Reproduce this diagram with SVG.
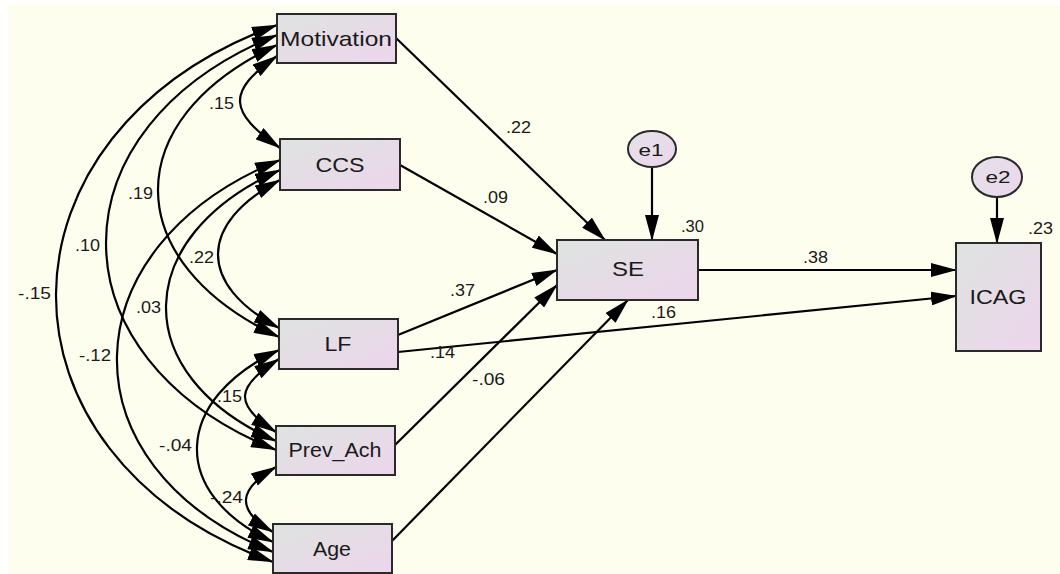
<svg xmlns="http://www.w3.org/2000/svg" width="1060" height="574" viewBox="0 0 1060 574">
  <style>
    .box { stroke: #2a2a2a; stroke-width: 2; fill: url(#nodeFill); }
    .err { stroke: #2a2a2a; stroke-width: 2; fill: url(#errFill); }
    .lbl { font-family: "Liberation Sans", Arial, sans-serif; font-size: 21px; fill: #1a1a1a; text-anchor: middle; }
    .elbl { font-family: "Liberation Sans", Arial, sans-serif; font-size: 17px; fill: #1a1a1a; text-anchor: middle; }
    .coef { font-family: "Liberation Sans", Arial, sans-serif; font-size: 16px; fill: #1a1a1a; }
    .path { stroke: #000; stroke-width: 2.2; fill: none; marker-end: url(#ah); }
    .cov { stroke: #000; stroke-width: 2.2; fill: none; marker-start: url(#ah); marker-end: url(#ah); }
  </style>
  <defs>
    <linearGradient id="nodeFill" x1="0" y1="0" x2="1" y2="1">
      <stop offset="0" stop-color="#dee3e0"/>
      <stop offset="1" stop-color="#edd5ec"/>
    </linearGradient>
    <linearGradient id="errFill" x1="0" y1="0" x2="1" y2="1">
      <stop offset="0" stop-color="#e4e2e8"/>
      <stop offset="1" stop-color="#ecd6ec"/>
    </linearGradient>
    <marker id="ah" viewBox="0 0 26 14" refX="25" refY="7" markerWidth="26" markerHeight="14" markerUnits="userSpaceOnUse" orient="auto-start-reverse">
      <path d="M0,0 L26,7 L0,14 z" fill="#000"/>
    </marker>
  </defs>

  <!-- canvas -->
  <rect x="0" y="0" width="1060" height="574" fill="#ffffff"/>
  <rect x="8" y="5" width="1052" height="569" fill="#fefeef"/>

  <!-- connectors: regression paths and covariances -->
  <g id="connectors">
    <line class="path" x1="396" y1="38" x2="605" y2="240"/>
    <line class="path" x1="400" y1="165" x2="557" y2="254"/>
    <line class="path" x1="398" y1="335" x2="557" y2="270"/>
    <line class="path" x1="395" y1="445" x2="557" y2="285"/>
    <line class="path" x1="392" y1="541" x2="628" y2="300"/>
    <line class="path" x1="398" y1="352" x2="956" y2="296"/>
    <line class="path" x1="698" y1="270" x2="956" y2="270"/>
    <line class="path" x1="652" y1="167" x2="652" y2="240"/>
    <line class="path" x1="997" y1="197" x2="997" y2="243"/>

    <path class="cov" d="M277,56 C225.7,91.9 228.7,112.1 280,148"/>
    <path class="cov" d="M277,45 C117,119.6 119,262.4 279,337"/>
    <path class="cov" d="M277,35 C49.7,126.8 48.7,358.2 276,450"/>
    <path class="cov" d="M277,25 C-15,131.3 -19,455.7 273,562"/>
    <path class="cov" d="M280,180 C198,223.6 197,284.4 279,328"/>
    <path class="cov" d="M280,170 C130.7,236.5 126.7,374.5 276,441"/>
    <path class="cov" d="M280,160 C67.3,245.9 60.3,466.1 273,552"/>
    <path class="cov" d="M279,359 C235.7,386.1 232.7,404.9 276,432"/>
    <path class="cov" d="M279,350 C173.7,399.1 167.7,492.9 273,542"/>
    <path class="cov" d="M276,467 C238,488.9 235,510.1 273,532"/>
  </g>

  <!-- coefficient labels -->
  <g id="coefficients">
    <text class="coef" x="506" y="133" textLength="25" lengthAdjust="spacingAndGlyphs">.22</text>
    <text class="coef" x="483" y="203" textLength="25" lengthAdjust="spacingAndGlyphs">.09</text>
    <text class="coef" x="450" y="296" textLength="25" lengthAdjust="spacingAndGlyphs">.37</text>
    <text class="coef" x="430" y="358" textLength="25" lengthAdjust="spacingAndGlyphs">.14</text>
    <text class="coef" x="472" y="385" textLength="33" lengthAdjust="spacingAndGlyphs">-.06</text>
    <text class="coef" x="651" y="318" textLength="25" lengthAdjust="spacingAndGlyphs">.16</text>
    <text class="coef" x="803" y="263" textLength="25" lengthAdjust="spacingAndGlyphs">.38</text>
    <text class="coef" x="681" y="232" textLength="23" lengthAdjust="spacingAndGlyphs">.30</text>
    <text class="coef" x="1028" y="234" textLength="25" lengthAdjust="spacingAndGlyphs">.23</text>
    <text class="coef" x="209" y="109" textLength="25" lengthAdjust="spacingAndGlyphs">.15</text>
    <text class="coef" x="128" y="199" textLength="25" lengthAdjust="spacingAndGlyphs">.19</text>
    <text class="coef" x="75" y="251" textLength="25" lengthAdjust="spacingAndGlyphs">.10</text>
    <text class="coef" x="18" y="299" textLength="33" lengthAdjust="spacingAndGlyphs">-.15</text>
    <text class="coef" x="189" y="263" textLength="25" lengthAdjust="spacingAndGlyphs">.22</text>
    <text class="coef" x="136" y="313" textLength="25" lengthAdjust="spacingAndGlyphs">.03</text>
    <text class="coef" x="79" y="361" textLength="32" lengthAdjust="spacingAndGlyphs">-.12</text>
    <text class="coef" x="217" y="402" textLength="25" lengthAdjust="spacingAndGlyphs">.15</text>
    <text class="coef" x="159" y="451" textLength="33" lengthAdjust="spacingAndGlyphs">-.04</text>
    <text class="coef" x="210" y="503" textLength="33" lengthAdjust="spacingAndGlyphs">-.24</text>
  </g>

  <!-- observed variables -->
  <g id="motivation">
    <rect class="box" x="277" y="14" width="119" height="49"/>
    <text class="lbl" x="336" y="46" textLength="112" lengthAdjust="spacingAndGlyphs">Motivation</text>
  </g>
  <g id="ccs">
    <rect class="box" x="280" y="139" width="120" height="51"/>
    <text class="lbl" x="340" y="172" textLength="49" lengthAdjust="spacingAndGlyphs">CCS</text>
  </g>
  <g id="lf">
    <rect class="box" x="279" y="319" width="119" height="50"/>
    <text class="lbl" x="338" y="351" textLength="27" lengthAdjust="spacingAndGlyphs">LF</text>
  </g>
  <g id="prev_ach">
    <rect class="box" x="276" y="426" width="119" height="49"/>
    <text class="lbl" x="335" y="457" textLength="93" lengthAdjust="spacingAndGlyphs">Prev_Ach</text>
  </g>
  <g id="age">
    <rect class="box" x="273" y="524" width="119" height="49"/>
    <text class="lbl" x="332" y="556" textLength="38" lengthAdjust="spacingAndGlyphs">Age</text>
  </g>
  <g id="se">
    <rect class="box" x="557" y="240" width="141" height="60"/>
    <text class="lbl" x="628" y="276" textLength="32" lengthAdjust="spacingAndGlyphs">SE</text>
  </g>
  <g id="icag">
    <rect class="box" x="956" y="243" width="85" height="108"/>
    <text class="lbl" x="998" y="304" textLength="57" lengthAdjust="spacingAndGlyphs">ICAG</text>
  </g>

  <!-- error terms -->
  <g id="e1">
    <ellipse class="err" cx="652" cy="149" rx="24" ry="18"/>
    <text class="elbl" x="651" y="156" textLength="25" lengthAdjust="spacingAndGlyphs">e1</text>
  </g>
  <g id="e2">
    <ellipse class="err" cx="997" cy="177" rx="25" ry="20"/>
    <text class="elbl" x="998" y="183" textLength="25" lengthAdjust="spacingAndGlyphs">e2</text>
  </g>
</svg>
